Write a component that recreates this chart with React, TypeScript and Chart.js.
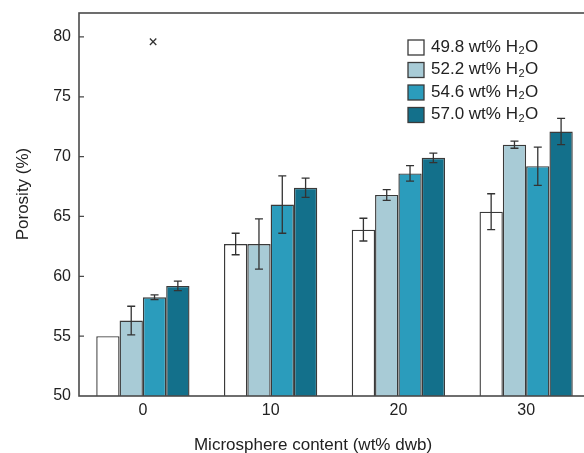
import React, { useEffect, useRef } from "react";
import { Chart, registerables } from "chart.js";

Chart.register(...registerables);

// ---------- data ----------
const categories = ["0", "10", "20", "30"];
const seriesLabels = ["49.8 wt% H₂O", "52.2 wt% H₂O", "54.6 wt% H₂O", "57.0 wt% H₂O"];
const porosity498 = [55.0, 62.7, 63.9, 65.4];
const porosity522 = [56.3, 62.7, 66.8, 71.0];
const porosity546 = [58.25, 66.0, 68.6, 69.2];
const porosity570 = [59.2, 67.4, 69.9, 72.1];
const error498 = [0, 0.9, 0.95, 1.5];
const error522 = [1.2, 2.1, 0.45, 0.3];
const error546 = [0.2, 2.4, 0.65, 1.6];
const error570 = [0.4, 0.8, 0.4, 1.1];
// outlier marker: position in category-index units and porosity value
const outlierX = [0.08];
const outlierY = [79.6];
const yMin = 50;
const yMax = 82;
const yStep = 5;
const xTitle = "Microsphere content (wt% dwb)";
const yTitle = "Porosity (%)";

const seriesValues = [porosity498, porosity522, porosity546, porosity570];
const seriesErrors = [error498, error522, error546, error570];
const seriesColors = ["#ffffff", "#a8cbd6", "#2b9cbc", "#13708b"];

const FONT = '"Liberation Sans", Arial, Helvetica, sans-serif';
const INK = "#222222";
const LINE = "#4a4a4a";

function drawSubLabel(ctx: CanvasRenderingContext2D, text: string, x: number, y: number, size: number) {
  const parts = text.split("₂");
  ctx.textAlign = "left";
  ctx.textBaseline = "middle";
  ctx.font = `${size}px ${FONT}`;
  ctx.fillText(parts[0], x, y);
  let cx = x + ctx.measureText(parts[0]).width;
  if (parts.length > 1) {
    ctx.font = `${Math.round(size * 0.65)}px ${FONT}`;
    ctx.fillText("2", cx + 0.5, y + 4);
    cx += ctx.measureText("2").width + 1;
    ctx.font = `${size}px ${FONT}`;
    ctx.fillText(parts[1], cx, y);
  }
}

const customPlugin = {
  id: "custom",
  afterDatasetsDraw(chart: any) {
    const ctx: CanvasRenderingContext2D = chart.ctx;
    const yScale = chart.scales.y;
    ctx.save();
    ctx.strokeStyle = "#333333";
    ctx.lineWidth = 1.3;
    chart.data.datasets.forEach((ds: any, di: number) => {
      if (!ds.errors) return;
      const meta = chart.getDatasetMeta(di);
      meta.data.forEach((bar: any, i: number) => {
        const e = ds.errors[i];
        if (!e) return;
        const v = ds.data[i];
        const yt = yScale.getPixelForValue(v + e);
        const yb = yScale.getPixelForValue(v - e);
        const x = bar.x;
        ctx.beginPath();
        ctx.moveTo(x, yt);
        ctx.lineTo(x, yb);
        ctx.moveTo(x - 4, yt);
        ctx.lineTo(x + 4, yt);
        ctx.moveTo(x - 4, yb);
        ctx.lineTo(x + 4, yb);
        ctx.stroke();
      });
    });
    ctx.restore();
  },
  afterDraw(chart: any) {
    const ctx: CanvasRenderingContext2D = chart.ctx;
    const a = chart.chartArea;
    const yScale = chart.scales.y;
    const xScale = chart.scales.x;
    ctx.save();
    // frame
    ctx.strokeStyle = LINE;
    ctx.lineWidth = 1.6;
    ctx.strokeRect(a.left, a.top, a.right - a.left, a.bottom - a.top);
    // inward ticks left and right
    ctx.lineWidth = 1.2;
    yScale.ticks.forEach((t: any) => {
      const y = yScale.getPixelForValue(t.value);
      if (Math.abs(y - a.bottom) < 1) return;
      ctx.beginPath();
      ctx.moveTo(a.left, y);
      ctx.lineTo(a.left + 5, y);
      ctx.moveTo(a.right, y);
      ctx.lineTo(a.right - 5, y);
      ctx.stroke();
    });
    // outlier crosses
    const step = xScale.getPixelForValue(1) - xScale.getPixelForValue(0);
    ctx.strokeStyle = "#333333";
    ctx.lineWidth = 1.3;
    outlierX.forEach((xv, i) => {
      const base = Math.floor(xv);
      const px = xScale.getPixelForValue(base) + (xv - base) * step;
      const py = yScale.getPixelForValue(outlierY[i]);
      const r = 3.2;
      ctx.beginPath();
      ctx.moveTo(px - r, py - r);
      ctx.lineTo(px + r, py + r);
      ctx.moveTo(px - r, py + r);
      ctx.lineTo(px + r, py - r);
      ctx.stroke();
    });
    // legend
    let ly = a.top + 34;
    const lx = a.left + 329;
    chart.data.datasets.forEach((ds: any) => {
      if (!ds.errors) return;
      ctx.fillStyle = ds.backgroundColor;
      ctx.fillRect(lx, ly - 7, 16, 15);
      ctx.strokeStyle = "#3a3a3a";
      ctx.lineWidth = 1.3;
      ctx.strokeRect(lx, ly - 7, 16, 15);
      ctx.fillStyle = INK;
      drawSubLabel(ctx, ds.label, lx + 23, ly, 17);
      ly += 22.5;
    });
    // axis titles
    ctx.fillStyle = INK;
    ctx.font = `17px ${FONT}`;
    ctx.textAlign = "center";
    ctx.textBaseline = "middle";
    ctx.fillText(xTitle, a.left + 234, 445);
    ctx.save();
    ctx.translate(23, a.top + 181);
    ctx.rotate(-Math.PI / 2);
    ctx.fillText(yTitle, 0, 0);
    ctx.restore();
    ctx.restore();
  },
};

export default function App() {
  const ref = useRef<HTMLCanvasElement | null>(null);

  useEffect(() => {
    if (!ref.current) return;
    const barSets = seriesValues.map((vals, i) => ({
      label: seriesLabels[i],
      data: vals,
      errors: seriesErrors[i],
      backgroundColor: seriesColors[i],
      borderColor: "#3a3a3a",
      borderWidth: 1.4,
      categoryPercentage: 0.73,
      barPercentage: 1.0,
    }));
    const chart = new Chart(ref.current, {
      type: "bar",
      data: { labels: categories, datasets: barSets as any },
      options: {
        animation: false,
        responsive: false,
        layout: { padding: { top: 13, right: 10, left: 0, bottom: 0 } },
        plugins: { legend: { display: false }, tooltip: { enabled: false } },
        scales: {
          x: {
            type: "category",
            offset: true,
            grid: { display: false, drawTicks: false },
            border: { display: false },
            ticks: { color: INK, font: { family: FONT, size: 16 }, padding: 5 },
            afterFit: (s: any) => {
              s.height = 57;
              s.paddingLeft = 0;
              s.paddingRight = 0;
            },
          },
          y: {
            min: yMin,
            max: yMax,
            grid: { display: false, drawTicks: false },
            border: { display: false },
            ticks: {
              stepSize: yStep,
              includeBounds: false,
              color: INK,
              font: { family: FONT, size: 16 },
              padding: 8,
            },
            afterFit: (s: any) => {
              s.width = 79;
              s.paddingTop = 0;
              s.paddingBottom = 0;
            },
          },
        },
      } as any,
      plugins: [customPlugin],
    });
    return () => chart.destroy();
  }, []);

  return (
    <div style={{ position: "fixed", left: 0, top: 0, width: 584, height: 453, overflow: "hidden", background: "#fff" }}>
      <canvas ref={ref} width={600} height={453} style={{ display: "block" }} />
    </div>
  );
}
